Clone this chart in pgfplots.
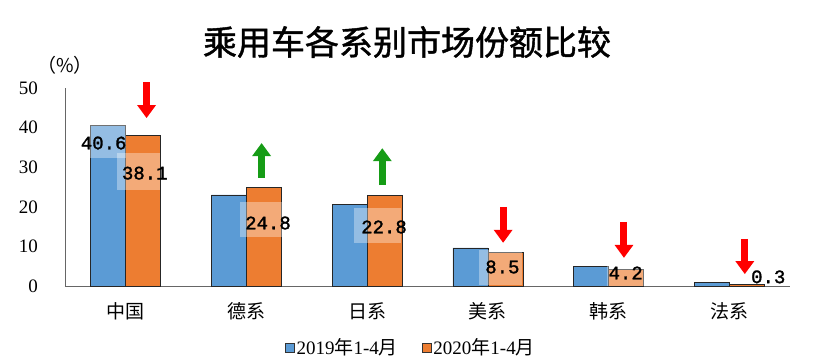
\documentclass[border=0pt]{standalone}
\usepackage{pgfplots}
\pgfplotsset{compat=1.18}
\usepackage{fontspec}
\setmainfont{Liberation Serif}
\newfontfamily\cjk{Noto Sans CJK SC}
\newfontfamily\cjkb{Noto Sans CJK SC}[FakeBold=1.2]
\newfontfamily\mono{Liberation Mono}[FakeBold=1.6]
\usetikzlibrary{arrows.meta}
\definecolor{cblue}{HTML}{5B9BD5}
\definecolor{corange}{HTML}{ED7D31}
\definecolor{cred}{HTML}{FF0000}
\definecolor{cgreen}{HTML}{169C16}
\begin{document}
\begin{tikzpicture}
\begin{axis}[
  width=725pt, height=198pt, scale only axis,
  xmin=-0.5, xmax=5.5, ymin=0, ymax=50,
  axis x line=bottom, axis y line=left,
  axis line style={-, black!60, line width=0.8pt},
  ytick={0,10,...,50}, xtick={0,...,5},
  xticklabels={中国,德系,日系,美系,韩系,法系},
  major tick length=0pt,
  ybar=0pt, bar width=35pt,
  clip=false,
  /pgf/number format/assume math mode=true,
  yticklabel style={font=\fontsize{19}{19}\selectfont, anchor=east, inner sep=0pt, xshift=-27pt},
  xticklabel style={font=\cjk\fontsize{19}{19}\selectfont, anchor=north, inner sep=0pt, yshift=-16pt},
  legend style={at={(0.477,-0.31)}, anchor=center, draw=none, fill=none, inner sep=0pt,
     legend columns=2, font=\fontsize{19}{19}\selectfont,
     /tikz/every even column/.append style={column sep=22pt}},
  legend image code/.code={\draw[#1, line width=0.6pt, draw=black!80] (0pt,-4.5pt) rectangle (9pt,4.5pt);},
]
\addplot[fill=cblue, draw=black!85, line width=0.7pt] coordinates {(0,40.6) (1,23.0) (2,20.7) (3,9.6) (4,4.9) (5,0.8)};
\addplot[fill=corange, draw=black!85, line width=0.7pt] coordinates {(0,38.1) (1,24.8) (2,22.8) (3,8.5) (4,4.2) (5,0.3)};
\addlegendentry{2019{\cjk 年}1-4{\cjk 月}}
\addlegendentry{2020{\cjk 年}1-4{\cjk 月}}
% label boxes
\fill[white, opacity=0.35] (axis cs:-0.146,36.5) ++(-18pt,-16.5pt) rectangle ++(36pt,33pt);
\fill[white, opacity=0.35] (axis cs:0.106,28.9) ++(-21.5pt,-18.5pt) rectangle ++(43pt,37pt);
\fill[white, opacity=0.35] (axis cs:1.118,16.7) ++(-21pt,-17.5pt) rectangle ++(42pt,35pt);
\fill[white, opacity=0.35] (axis cs:2.089,15.4) ++(-23.5pt,-17.5pt) rectangle ++(47pt,35pt);
\fill[white, opacity=0.35] (axis cs:3.106,4.7) ++(-21.5pt,-17.5pt) rectangle ++(43pt,35pt);
\fill[white, opacity=0.35] (axis cs:4.139,2.65) ++(-18.5pt,-10.5pt) rectangle ++(37pt,21pt);
% labels
\begin{scope}[every node/.style={font=\mono\fontsize{19}{19}\selectfont, inner sep=0pt}]
\node at (axis cs:-0.18,36.1) {40.6};
\node at (axis cs:0.16,28.5) {38.1};
\node at (axis cs:1.18,15.9) {24.8};
\node at (axis cs:2.14,14.9) {22.8};
\node at (axis cs:3.12,4.8) {8.5};
\node at (axis cs:4.14,3.3) {4.2};
\node at (axis cs:5.32,2.3) {0.3};
\end{scope}
% arrows
\begin{scope}[line width=7pt, -{Triangle[width=18pt,length=13pt]}]
\draw[cred] (axis cs:0.175,51.5) -- (axis cs:0.175,42.4);
\draw[cgreen] (axis cs:1.127,27.3) -- (axis cs:1.127,36.1);
\draw[cgreen] (axis cs:2.126,25.5) -- (axis cs:2.126,34.8);
\draw[cred] (axis cs:3.126,20.0) -- (axis cs:3.126,10.9);
\draw[cred] (axis cs:4.126,16.2) -- (axis cs:4.126,7.1);
\draw[cred] (axis cs:5.126,11.9) -- (axis cs:5.126,3.0);
\end{scope}
\end{axis}
\node[font=\cjkb\fontsize{34}{34}\selectfont] at (342pt,244pt) {乘用车各系别市场份额比较};
\node[font=\cjk\fontsize{19}{19}\selectfont] at (0pt,221pt) {（\%）};
\pgfresetboundingbox
\useasboundingbox (-65pt,-73pt) rectangle (755pt,286pt);
\end{tikzpicture}
\end{document}
